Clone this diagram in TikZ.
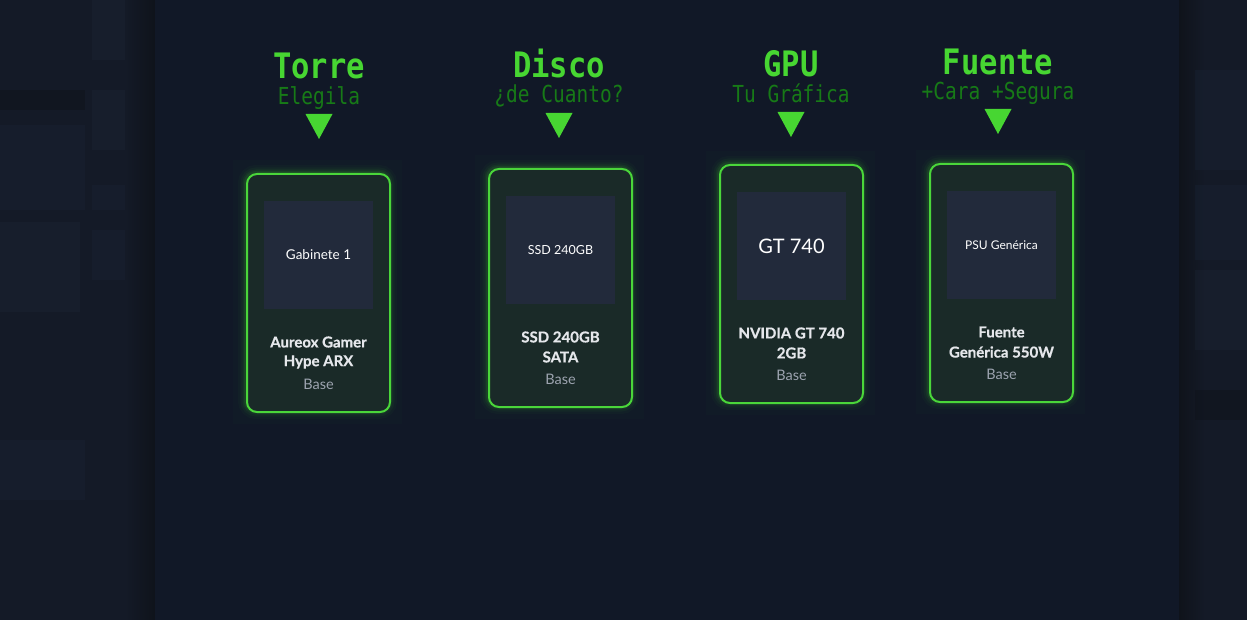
\documentclass[tikz,border=0pt]{standalone}
\usepackage{fontspec}
\usepackage{graphicx}
\setmainfont{Lato}
\newfontfamily\monof{DejaVu Sans Mono}
\newfontfamily\namef[FakeBold=0.6]{Lato Bold}
\definecolor{panel}{HTML}{111827}
\definecolor{sidebg}{HTML}{141A27}
\definecolor{sideA}{HTML}{1A2538}
\definecolor{sideB}{HTML}{1D2636}
\definecolor{sideD}{HTML}{0F131B}
\definecolor{titleg}{HTML}{47D632}
\definecolor{subg}{HTML}{177A17}
\definecolor{cardfill}{HTML}{1A2A28}
\definecolor{cardline}{HTML}{4AD63A}
\definecolor{imgfill}{HTML}{222A3B}
\definecolor{nametext}{HTML}{E5E7EB}
\definecolor{basetext}{HTML}{9CA3AF}
\definecolor{glowc}{HTML}{3FCF30}
\tikzset{
  titlet/.style={font=\monof\bfseries\fontsize{30.5}{30.5}\selectfont, text=titleg, inner sep=0pt},
  subt/.style={font=\monof\fontsize{19.5}{19.5}\selectfont, text=subg, inner sep=0pt},
  tri/.style={fill=titleg},
  cardbox/.style={draw=cardline, line width=2pt, fill=cardfill, rounded corners=10pt,
     minimum width=143pt, minimum height=238pt, inner sep=0pt},
  imgbox/.style={fill=imgfill, minimum width=109pt, minimum height=108pt, inner sep=0pt},
  imglabel/.style={text=white, inner sep=0pt},
  nameline/.style={font=\namef\fontsize{15}{15}\selectfont, text=nametext, inner sep=0pt},
  baseline/.style={font=\fontsize{14.5}{14.5}\selectfont, text=basetext, inner sep=0pt},
  blob/.style={opacity=0.35},
}
\newcommand\pchead[7]{%
  \node[titlet, anchor=base] (#1t) at (#2,#3) {\scalebox{1}[1.15]{#4}};
  \node[subt, anchor=base] (#1s) at (#2,#5) {\scalebox{1}[1.2]{#6}};
  \fill[tri] (#2-13.5,#7) -- (#2+13.5,#7) -- (#2,#7+25) -- cycle;
}
\newcommand\pccard[7]{%
  \fill[glowc, opacity=0.018] (#2-12,#3-12) rectangle (#2+157,#3+252);
  \foreach \w/\o in {16/0.03,11/0.05,7/0.07,4/0.1}
    \draw[glowc, line width=\w pt, opacity=\o, rounded corners=10pt] (#2+1,#3+1) rectangle ++(143,238);
  \node[cardbox, anchor=north west] (#1) at (#2+1,#3+1) {};
  \node[imgbox, anchor=north] (#1img) at ([yshift=-28pt]#1.north) {};
  \node[imglabel, font=\fontsize{#4}{#4}\selectfont] (#1lab) at ([yshift=-82pt]#1.north) {#5};
  \node[nameline] (#1n1) at ([yshift=-169pt]#1.north) {#6};
  \node[nameline] (#1n2) at ([yshift=-189pt]#1.north) {#7};
  \node[baseline] (#1b) at ([yshift=-211pt]#1.north) {Base};
}
\begin{document}
\begin{tikzpicture}[x=1pt,y=-1pt]
\useasboundingbox (0,0) rectangle (1247,620);
\fill[sidebg] (0,0) rectangle (1247,620);
% blurred background hints
\fill[sideA, blob] (0,125) rectangle (85,210);
\fill[sideB, blob] (0,222) rectangle (80,312);
\fill[sideA, blob] (0,440) rectangle (85,500);
\fill[sideD, opacity=0.5] (0,90) rectangle (85,110);
\fill[sideB, blob] (92,0) rectangle (150,60);
\fill[sideB, blob] (92,90) rectangle (150,150);
\fill[sideA, blob] (92,185) rectangle (150,210);
\fill[sideA, blob] (92,230) rectangle (140,280);
\shade[left color=sidebg, right color=sideD] (125,0) rectangle (155,620);
\shade[left color=sideD, right color=sidebg] (1179,0) rectangle (1205,620);
\fill[sideA, blob] (1195,70) rectangle (1247,170);
\fill[sideA, blob] (1195,185) rectangle (1247,260);
\fill[sideB, blob] (1195,270) rectangle (1247,350);
\fill[sideD, opacity=0.5] (1195,390) rectangle (1247,420);
% panel
\fill[panel] (155,0) rectangle (1179,620);
% headers
\pchead{h1}{319}{79}{Torre}{105}{Elegila}{114}
\pchead{h2}{559}{78}{Disco}{103}{¿de Cuanto?}{113}
\pchead{h3}{791}{77}{GPU}{103}{Tu Gráfica}{112}
\pchead{h4}{998}{75}{Fuente}{100}{+Cara +Segura}{109}
% cards
\pccard{c1}{245}{172}{13.5}{Gabinete 1}{Aureox Gamer}{Hype ARX}
\pccard{c2}{487}{167}{12.5}{SSD 240GB}{SSD 240GB}{SATA}
\pccard{c3}{718}{163}{20}{GT 740}{NVIDIA GT 740}{2GB}
\pccard{c4}{928}{162}{12}{PSU Genérica}{Fuente}{Genérica 550W}
\end{tikzpicture}
\end{document}
